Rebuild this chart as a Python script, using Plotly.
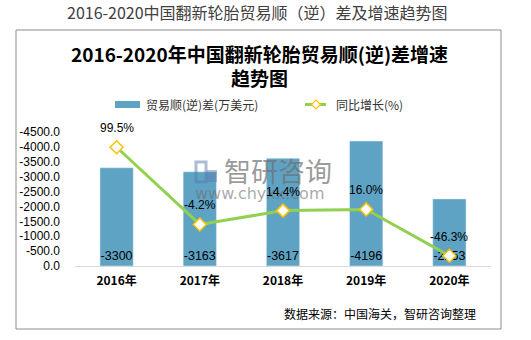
import plotly.graph_objects as go

years = ["2016年", "2017年", "2018年", "2019年", "2020年"]
balance = [-3300, -3163, -3617, -4196, -2253]          # 贸易顺(逆)差(万美元)
growth = [99.5, -4.2, 14.4, 16.0, -46.3]               # 同比增长(%)
growth_labels = ["99.5%", "-4.2%", "14.4%", "16.0%", "-46.3%"]
balance_labels = ["-3300", "-3163", "-3617", "-4196", "-2253"]
y_tickvals = [0, -500, -1000, -1500, -2000, -2500, -3000, -3500, -4000, -4500]
y_ticktext = ["0.0", "-500.0", "-1000.0", "-1500.0", "-2000.0", "-2500.0",
              "-3000.0", "-3500.0", "-4000.0", "-4500.0"]

W, H = 531, 340
L, R, T, B = 75, 40, 132, 74
PW, PH = W - L - R, H - T - B


def px(x):
    return (x - L) / PW


def py(y):
    return (H - B - y) / PH


FONT = "Liberation Sans, Noto Sans CJK SC, sans-serif"
CJK = "Noto Sans CJK SC, sans-serif"
BAR_C = "#5FA3C4"
LINE_C = "#92D050"
MK_C = "#FFC000"

fig = go.Figure()
fig.add_trace(go.Bar(
    x=years, y=balance, width=0.4, marker_color=BAR_C,
    text=balance_labels, textposition="inside", insidetextanchor="start",
    textangle=0, constraintext="none",
    textfont=dict(family=FONT, size=12.5, color="#000000"),
    showlegend=False, cliponaxis=False,
))
fig.add_trace(go.Scatter(
    x=years, y=growth, yaxis="y2", mode="lines+markers",
    line=dict(color=LINE_C, width=3),
    marker=dict(symbol="diamond", size=10, color="#FFFFFF",
                line=dict(color=MK_C, width=1.5)),
    showlegend=False, cliponaxis=False,
))

annotations = []
# watermark (drawn first so data labels sit on top)
annotations.append(dict(x=px(222), y=py(170), xref="paper", yref="paper",
                        text="智研咨询", showarrow=False,
                        xanchor="left", yanchor="middle",
                        font=dict(family=CJK, size=27, color="rgba(110,110,110,0.7)")))
annotations.append(dict(x=px(193), y=py(193), xref="paper", yref="paper",
                        text="www.chyxx.com", showarrow=False,
                        xanchor="left", yanchor="middle",
                        font=dict(family="DejaVu Sans, sans-serif", size=16,
                                  color="rgba(110,110,110,0.6)")))

for yr, g, lab in zip(years, growth, growth_labels):
    annotations.append(dict(x=yr, y=g, xref="x", yref="y2", text=lab,
                            showarrow=False, yshift=19,
                            font=dict(family=FONT, size=12, color="#000000")))

# titles
annotations.append(dict(x=px(257), y=py(12), xref="paper", yref="paper",
                        text="2016-2020中国翻新轮胎贸易顺（逆）差及增速趋势图",
                        showarrow=False, xanchor="center", yanchor="middle",
                        font=dict(family=CJK, size=16, color="#404040")))
annotations.append(dict(x=px(259), y=py(53), xref="paper", yref="paper",
                        text="2016-2020年中国翻新轮胎贸易顺(逆)差增速",
                        showarrow=False, xanchor="center", yanchor="middle",
                        font=dict(family=CJK, size=19, color="#000000", weight="bold")))
annotations.append(dict(x=px(259), y=py(77), xref="paper", yref="paper",
                        text="趋势图",
                        showarrow=False, xanchor="center", yanchor="middle",
                        font=dict(family=CJK, size=19, color="#000000", weight="bold")))
# legend texts
annotations.append(dict(x=px(144), y=py(104.5), xref="paper", yref="paper",
                        text="贸易顺(逆)差(万美元)", showarrow=False,
                        xanchor="left", yanchor="middle",
                        font=dict(family=CJK, size=12, color="#333333")))
annotations.append(dict(x=px(334), y=py(104.5), xref="paper", yref="paper",
                        text="同比增长(%)", showarrow=False,
                        xanchor="left", yanchor="middle",
                        font=dict(family=CJK, size=12, color="#333333")))
# source
annotations.append(dict(x=px(478), y=py(313), xref="paper", yref="paper",
                        text="数据来源：中国海关，智研咨询整理", showarrow=False,
                        xanchor="right", yanchor="middle",
                        font=dict(family=CJK, size=12, color="#000000")))

dx, dy = 4.5 / PW, 4.5 / PH
cx, cy = px(316), py(104.5)
diamond = f"M {cx - dx} {cy} L {cx} {cy + dy} L {cx + dx} {cy} L {cx} {cy - dy} Z"

shapes = [
    dict(type="rect", xref="paper", yref="paper", x0=px(16), x1=px(501),
         y0=py(329), y1=py(30), line=dict(color="#8C8C8C", width=1),
         fillcolor="rgba(0,0,0,0)", layer="below"),
    dict(type="rect", xref="paper", yref="paper", x0=px(115), x1=px(140),
         y0=py(108), y1=py(101), line=dict(width=0), fillcolor=BAR_C),
    dict(type="line", xref="paper", yref="paper", x0=px(305), x1=px(326),
         y0=cy, y1=cy, line=dict(color=LINE_C, width=3)),
    dict(type="path", xref="paper", yref="paper", path=diamond,
         fillcolor="#FFFFFF", line=dict(color=MK_C, width=1.2)),
    # watermark logo approximation
    dict(type="rect", xref="paper", yref="paper", x0=px(196), x1=px(206),
         y0=py(182), y1=py(162), line=dict(color="rgba(90,120,170,0.5)", width=3),
         fillcolor="rgba(0,0,0,0)"),
    dict(type="rect", xref="paper", yref="paper", x0=px(207), x1=px(217),
         y0=py(182), y1=py(170), line=dict(width=0),
         fillcolor="rgba(90,120,170,0.45)"),
]

fig.update_layout(
    width=W, height=H,
    margin=dict(l=L, r=R, t=T, b=B, pad=0),
    paper_bgcolor="#FFFFFF", plot_bgcolor="#FFFFFF",
    bargap=0.6,
    xaxis=dict(showline=True, linecolor="#D9D9D9", linewidth=1, showgrid=False,
               ticks="", tickfont=dict(family=CJK, size=12, color="#000000", weight="bold"),
               ticklabelstandoff=4, fixedrange=True),
    yaxis=dict(range=[0, -4500], tickvals=y_tickvals, ticktext=y_ticktext,
               showgrid=False, zeroline=False, showline=False, ticks="",
               ticklabelstandoff=14,
               tickfont=dict(family=FONT, size=12, color="#000000")),
    yaxis2=dict(range=[-60, 120], overlaying="y", side="right", visible=False),
    annotations=annotations,
    shapes=shapes,
    showlegend=False,
)

fig.write_html("out.html")
